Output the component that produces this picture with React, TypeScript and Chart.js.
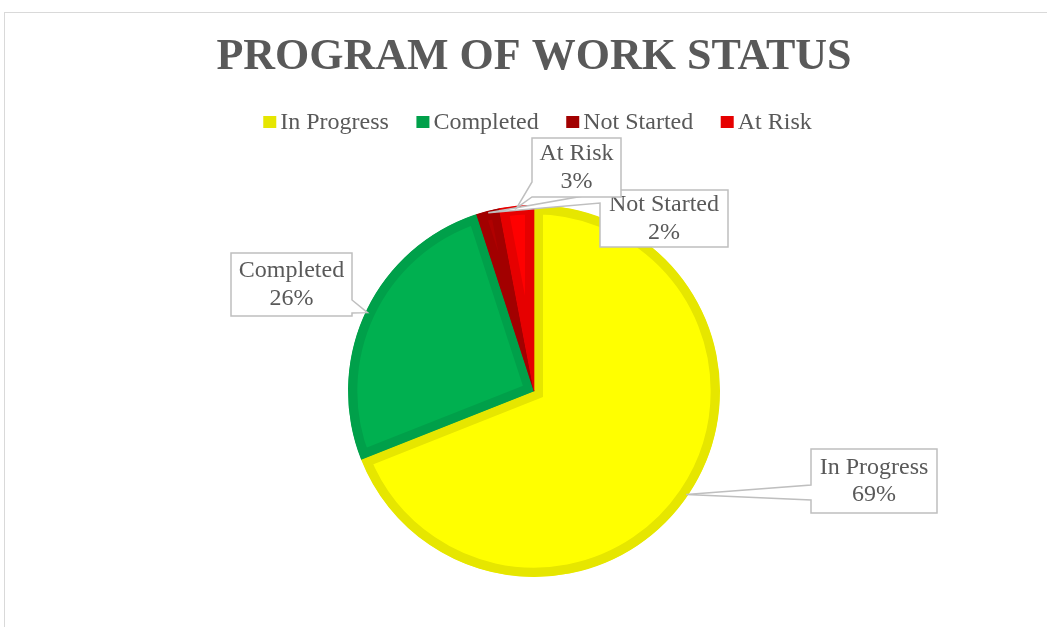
import React, { useEffect, useRef } from "react";
import { Chart, registerables } from "chart.js";

Chart.register(...registerables);

// ---- data ----
const categories = ["In Progress", "Completed", "Not Started", "At Risk"];
const values = [69, 26, 2, 3];
const fillColors = ["#FFFF00", "#00B050", "#B00000", "#FF0000"];
const edgeColors = ["#E6E600", "#00A04A", "#A20000", "#E60000"];
const titleText = "PROGRAM OF WORK STATUS";

// ---- styles ----
const FONT = "'Liberation Serif', 'Times New Roman', Times, serif";
const TEXT = "#595959";
const CANVAS_W = 1058;
const CANVAS_H = 640;

// callout box layout in canvas pixels (side = edge of the box the pointer leaves from)
const calloutLayout = [
  { x: 806, y: 436, w: 126, h: 64, side: "left", a: 36, b: 51 },
  { x: 226, y: 240, w: 121, h: 63, side: "right", a: 47, b: 60 },
  { x: 595, y: 177, w: 128, h: 57, side: "left", a: 3, b: 13 },
  { x: 527, y: 125, w: 89, h: 59, side: "left", a: 44, b: 59 },
];

const legendLayout = { centerX: 532.5, y: 109.5, box: 13, boxH: 12, gap: 4, itemGap: 27.5 };

const overlayPlugin = {
  id: "overlay",
  afterDraw(chart: any) {
    const ctx = chart.ctx;
    const ds = chart.data.datasets[0];
    const data: number[] = ds.data;
    const labels: string[] = chart.data.labels;
    const total = data.reduce((s, v) => s + v, 0);
    const meta = chart.getDatasetMeta(0);

    // ---- legend ----
    ctx.save();
    ctx.font = `24px ${FONT}`;
    ctx.textBaseline = "middle";
    ctx.textAlign = "left";
    const widths = labels.map((l) => ctx.measureText(l).width);
    const L = legendLayout;
    const totalW =
      widths.reduce((s, w) => s + w, 0) + labels.length * (L.box + L.gap) + (labels.length - 1) * L.itemGap;
    let x = L.centerX - totalW / 2;
    labels.forEach((l, i) => {
      ctx.fillStyle = ds.borderColor[i];
      ctx.fillRect(x, L.y - L.boxH / 2 - 0.5, L.box, L.boxH);
      x += L.box + L.gap;
      ctx.fillStyle = TEXT;
      ctx.fillText(l, x, L.y);
      x += widths[i] + L.itemGap;
    });
    ctx.restore();

    // ---- callouts ----
    meta.data.forEach((arc: any, i: number) => {
      const p = arc.getProps(["x", "y", "startAngle", "endAngle", "outerRadius"], true);
      const mid = (p.startAngle + p.endAngle) / 2;
      const r = p.outerRadius - 2;
      const tx = p.x + Math.cos(mid) * r;
      const ty = p.y + Math.sin(mid) * r;
      const c = calloutLayout[i];
      const { x: bx, y: by, w, h, side, a, b } = c as any;

      ctx.save();
      ctx.beginPath();
      ctx.moveTo(bx, by);
      if (side === "top") {
        ctx.lineTo(bx + a, by);
        ctx.lineTo(tx, ty);
        ctx.lineTo(bx + b, by);
      }
      ctx.lineTo(bx + w, by);
      if (side === "right") {
        ctx.lineTo(bx + w, by + a);
        ctx.lineTo(tx, ty);
        ctx.lineTo(bx + w, by + b);
      }
      ctx.lineTo(bx + w, by + h);
      if (side === "bottom") {
        ctx.lineTo(bx + b, by + h);
        ctx.lineTo(tx, ty);
        ctx.lineTo(bx + a, by + h);
      }
      ctx.lineTo(bx, by + h);
      if (side === "left") {
        ctx.lineTo(bx, by + b);
        ctx.lineTo(tx, ty);
        ctx.lineTo(bx, by + a);
      }
      ctx.closePath();
      ctx.fillStyle = "#FFFFFF";
      ctx.fill();
      ctx.lineWidth = 1.5;
      ctx.strokeStyle = "#BFBFBF";
      ctx.lineJoin = "miter";
      ctx.stroke();

      const pct = Math.round((data[i] / total) * 100) + "%";
      ctx.font = `24px ${FONT}`;
      ctx.fillStyle = TEXT;
      ctx.textAlign = "center";
      ctx.textBaseline = "middle";
      const cx = bx + w / 2;
      const cy = by + h / 2;
      ctx.fillText(labels[i], cx, cy - 13.5);
      ctx.fillText(pct, cx, cy + 14);
      ctx.restore();
    });
  },
};

export default function App() {
  const ref = useRef<HTMLCanvasElement | null>(null);

  useEffect(() => {
    if (!ref.current) return;
    const chart = new Chart(ref.current, {
      type: "pie",
      data: {
        labels: categories,
        datasets: [
          {
            data: values,
            backgroundColor: fillColors,
            borderColor: edgeColors,
            borderWidth: 9,
            borderAlign: "inner",
            borderJoinStyle: "miter",
            radius: 186,
          } as any,
        ],
      },
      options: {
        responsive: false,
        animation: false,
        devicePixelRatio: 1,
        events: [],
        layout: { padding: { top: 0, bottom: 10, left: 0, right: 0 } },
        plugins: {
          legend: { display: false },
          tooltip: { enabled: false },
          title: {
            display: true,
            text: titleText,
            color: TEXT,
            font: { family: FONT, size: 44, weight: "bold", lineHeight: 1.2 },
            padding: { top: 18.6, bottom: 54.6 },
          },
        },
      } as any,
      plugins: [overlayPlugin],
    });
    return () => chart.destroy();
  }, []);

  return (
    <div
      style={{
        position: "fixed",
        left: 4,
        top: 12,
        width: CANVAS_W,
        height: CANVAS_H,
        border: "1px solid #D9D9D9",
        background: "#FFFFFF",
      }}
    >
      <canvas ref={ref} width={CANVAS_W} height={CANVAS_H} style={{ display: "block" }} />
    </div>
  );
}
